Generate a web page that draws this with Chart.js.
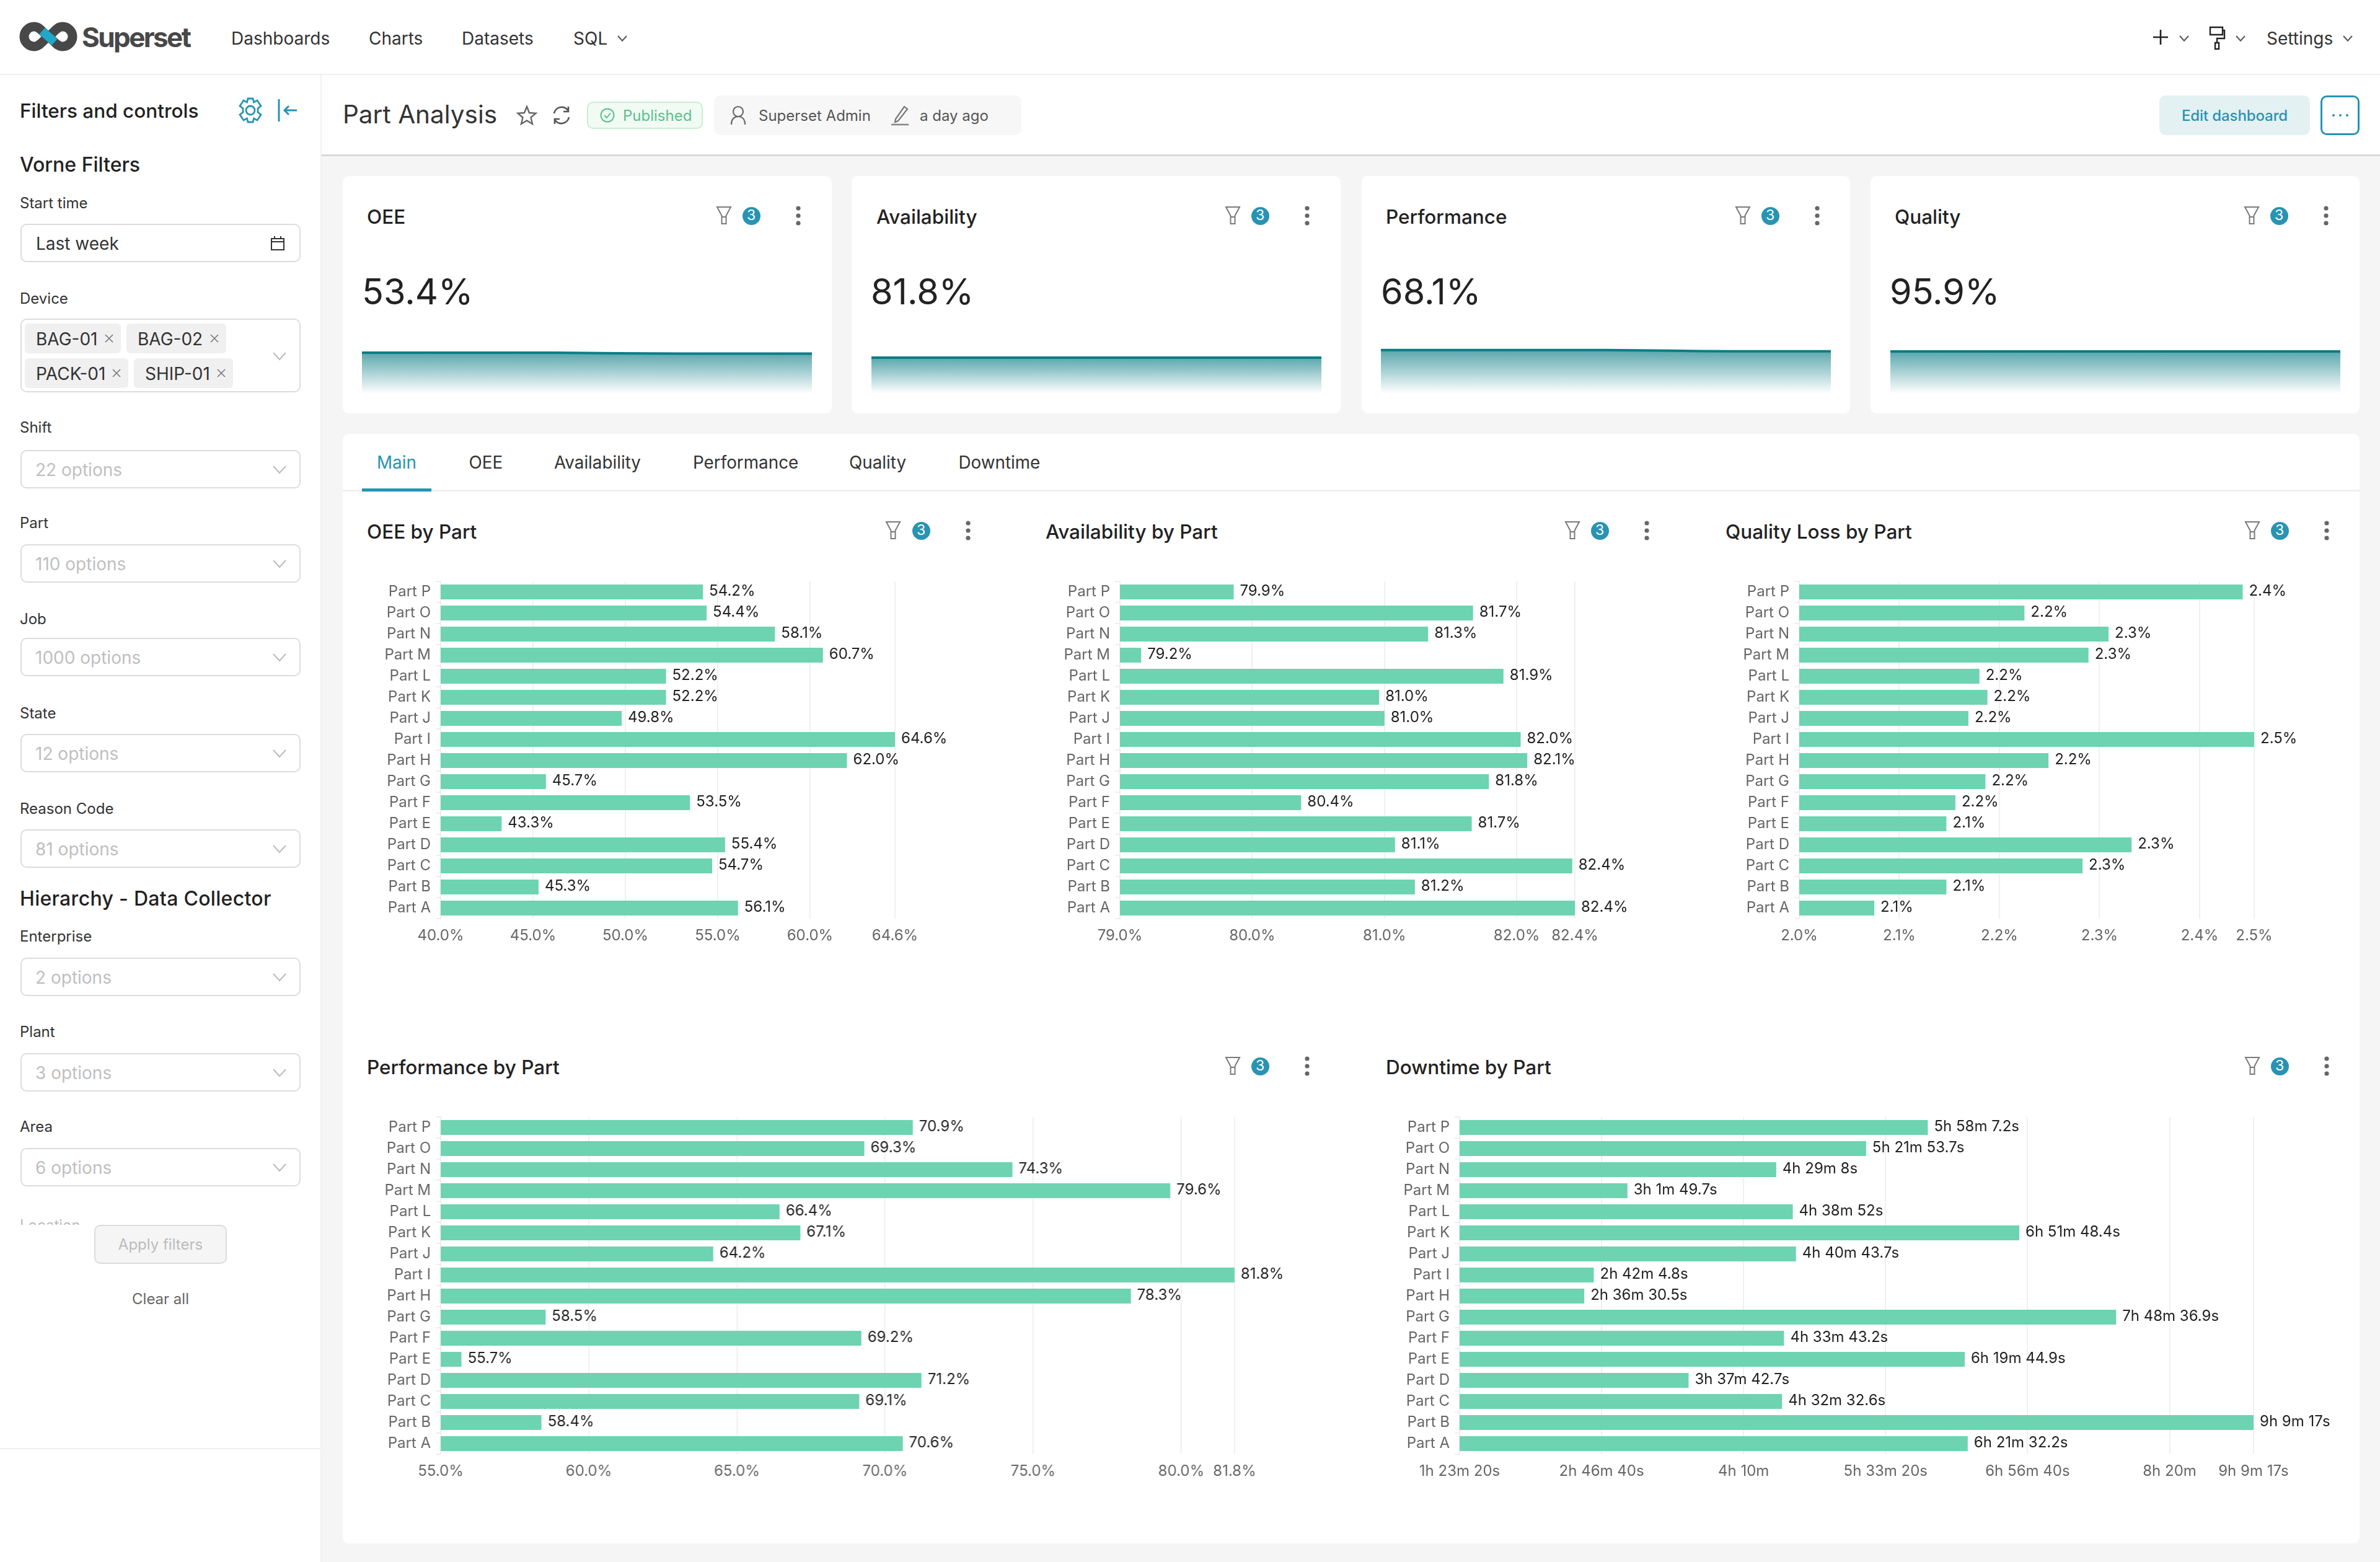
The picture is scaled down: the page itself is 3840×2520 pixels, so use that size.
<!DOCTYPE html>
<html><head><meta charset="utf-8"><title>Part Analysis</title>
<script src="https://cdn.jsdelivr.net/npm/chart.js@4/dist/chart.umd.min.js"></script>
<style>
html,body{margin:0;padding:0;width:3840px;height:2520px;overflow:hidden;background:#f5f5f5;font-family:Inter,sans-serif;}
#root{position:relative;width:3840px;height:2520px;overflow:hidden;}
.b{position:absolute;box-sizing:border-box;}
.t{position:absolute;white-space:nowrap;transform:translateY(-50%);line-height:1.2;}
canvas{position:absolute;display:block;}
svg{position:absolute;overflow:visible;}
</style></head><body><div id="root"></div>
<script>
// ---- data ----
const parts=['Part P','Part O','Part N','Part M','Part L','Part K','Part J','Part I','Part H','Part G','Part F','Part E','Part D','Part C','Part B','Part A'];
const oeeValues=[54.2,54.4,58.1,60.7,52.2,52.2,49.8,64.6,62.0,45.7,53.5,43.3,55.4,54.7,45.3,56.1];
const availabilityValues=[79.86,81.67,81.33,79.16,81.90,80.96,81.00,82.03,82.08,81.79,80.37,81.66,81.08,82.42,81.23,82.44];
const qualityLossValues=[2.443,2.225,2.309,2.289,2.180,2.188,2.169,2.4545,2.249,2.186,2.156,2.147,2.332,2.283,2.147,2.075];
const performanceValues=[70.94,69.3,74.3,79.63,66.44,67.14,64.2,81.8,78.3,58.54,69.2,55.7,71.23,69.13,58.4,70.6];
const downtimeSeconds=[21487.2,19313.7,16148,10909.7,16732,24708.4,16843.7,9724.8,9390.5,28116.9,16423.2,22784.9,13062.7,16352.6,32957,22892.2];
const oeeTicks=[40,45,50,55,60,64.6];
const availabilityTicks=[79,80,81,82,82.44];
const qualityLossTicks=[2.0,2.1,2.2,2.3,2.4,2.4545];
const performanceTicks=[55,60,65,70,75,80,81.8];
const downtimeTicks=[5000,10000,15000,20000,25000,30000,32957];
const sparkLabels=['d1','d2','d3','d4','d5','d6','d7','d8'];
const sparkOEE=[54.2,54.2,54.2,54.1,53.4,53.0,53.0,53.0];
const sparkAvailability=[81.8,81.8,81.8,81.8,81.8,81.8,81.8,81.8];
const sparkPerformance=[69.3,69.3,69.3,69.3,69.0,67.6,67.4,67.5];
const sparkQuality=[95.9,95.9,95.9,95.9,95.9,95.9,95.9,95.9];
const kpiTitles=['OEE','Availability','Performance','Quality'];
const kpiValues=['53.4%','81.8%','68.1%','95.9%'];
const tabNames=['Main','OEE','Availability','Performance','Quality','Downtime'];
const navItems=['Dashboards','Charts','Datasets','SQL'];
const filterLabels=['Shift','Part','Job','State','Reason Code','Enterprise','Plant','Area'];
const filterOptions=['22 options','110 options','1000 options','12 options','81 options','2 options','3 options','6 options'];
const deviceTags=['BAG-01','BAG-02','PACK-01','SHIP-01'];

// ---- chrome helpers ----
const root=document.getElementById('root');
const TEAL='#2893b3';
function box(x,y,w,h,css){const d=document.createElement('div');d.className='b';d.style.cssText=`left:${x}px;top:${y}px;width:${w}px;height:${h}px;${css||''}`;root.appendChild(d);return d;}
function txt(x,cy,s,size,color,extra){const d=document.createElement('div');d.className='t';d.textContent=s;d.style.cssText=`left:${x}px;top:${cy+1.5}px;font-size:${size}px;color:${color};${extra||''}`;root.appendChild(d);return d;}
function svg(cx,cy,w,h,inner){const n='http://www.w3.org/2000/svg';const e=document.createElementNS(n,'svg');e.setAttribute('width',w);e.setAttribute('height',h);e.setAttribute('viewBox',`0 0 ${w} ${h}`);e.style.left=(cx-w/2)+'px';e.style.top=(cy-h/2)+'px';e.innerHTML=inner;root.appendChild(e);return e;}
function caret(cx,cy,c,w){const W=w||14,H=W*0.55;svg(cx,cy,W,H,`<polyline points="0,0 ${W/2},${H} ${W},0" fill="none" stroke="${c||'#555'}" stroke-width="2"/>`);}
function funnel(cx,cy){svg(cx,cy,24,30,`<path d="M1 1H23L15.5 15V28H8.5V15Z M8.5 17H15.5" fill="none" stroke="#7a7a7a" stroke-width="2"/>`);}
function badge(cx,cy){svg(cx,cy,29,29,`<circle cx="14.5" cy="14.5" r="14.5" fill="${TEAL}"/>`);txt(cx,cy-1.5,'3',23,'#fff','transform:translate(-50%,-50%);');}
function kebab(cx,cy){svg(cx,cy,8,32,`<circle cx="4" cy="4" r="3.6" fill="#666"/><circle cx="4" cy="16" r="3.6" fill="#666"/><circle cx="4" cy="28" r="3.6" fill="#666"/>`);}
function cardIcons(fx,bx,kx,cy){funnel(fx,cy);badge(bx,cy);kebab(kx,cy);}

// ---- page frame ----
box(0,0,3840,121,'background:#fff;border-bottom:2px solid #f0f0f0;');
box(0,121,519,2399,'background:#fff;border-right:2px solid #f0f0f0;');
box(519,121,3321,131,'background:#fff;border-bottom:3px solid #d9d9d9;');
// logo
svg(78,59,92,48,`<path d="M23 8A16 16 0 1 0 23 40C33 40 36 31 46 24C56 17 59 8 69 8A16 16 0 1 1 69 40C59 40 56 31 46 24C36 17 33 8 23 8Z" fill="none" stroke="#484848" stroke-width="15"/><path d="M36 15L56 33" stroke="#20a7c9" stroke-width="14"/>`);
txt(132,58,'Superset',44,'#484848','font-weight:700;letter-spacing:-2.6px;');
const navX=[373,595,745,925];
navItems.forEach((s,i)=>txt(navX[i],61,s,28,'#333'));
caret(1004,62,'#555');
svg(3486,60,26,26,`<path d="M13 1V25M1 13H25" stroke="#222" stroke-width="2.6"/>`);
caret(3524,62,'#555');
svg(3577,61,26,38,`<path d="M2 2H22V14H2Z M22 7H25V20H13V27 M10 27H16V37H10Z" fill="none" stroke="#222" stroke-width="2.4"/>`);
caret(3615,62,'#555');
txt(3657,61,'Settings',28,'#333');
caret(3788,62,'#555');

// title bar
txt(553,183,'Part Analysis',40.5,'#333');
svg(850,186,32,32,`<path d="M16 2L20 12L30.5 12.8L22.5 19.5L25 30L16 24.5L7 30L9.5 19.5L1.5 12.8L12 12Z" fill="none" stroke="#666" stroke-width="2.4"/>`);
svg(906,186,32,32,`<path d="M4 13A12.5 12.5 0 0 1 27 9M28 19A12.5 12.5 0 0 1 5 23" fill="none" stroke="#555" stroke-width="2.6"/><path d="M27 2V10H19M5 30V22H13" fill="none" stroke="#555" stroke-width="2.6"/>`);
box(947,164,187,44,'background:#f1fbf4;border:2px solid #c6eed3;border-radius:10px;');
svg(980,186,24,24,`<circle cx="12" cy="12" r="10.5" fill="none" stroke="#5ac189" stroke-width="2"/><path d="M7 12L11 16L17 8.5" fill="none" stroke="#5ac189" stroke-width="2"/>`);
txt(1005,185,'Published',24,'#5ac189');
box(1152,154,496,64,'background:#f7f7f7;border-radius:10px;');
svg(1191,186,26,32,`<circle cx="13" cy="10" r="8" fill="none" stroke="#666" stroke-width="2.2"/><path d="M2 31C2 22 7 18 13 18C19 18 24 22 24 31" fill="none" stroke="#666" stroke-width="2.2"/>`);
txt(1224,185,'Superset Admin',24,'#555');
svg(1452,186,30,32,`<path d="M8 22L22 2L27 6L12 25L7 27Z" fill="none" stroke="#777" stroke-width="2.2"/><path d="M1 31H29" stroke="#888" stroke-width="2.6"/>`);
txt(1484,185,'a day ago',24,'#555');
box(3484,154,243,64,'background:#e3f1f3;border-radius:10px;');
txt(3605.5,185,'Edit dashboard',24,TEAL,'transform:translate(-50%,-50%);font-weight:500;letter-spacing:-0.1px;');
box(3744,154,63,64,`border:3px solid ${TEAL};border-radius:10px;background:#fff;`);
svg(3775.5,186,26,4,`<circle cx="2" cy="2" r="2" fill="${TEAL}"/><circle cx="13" cy="2" r="2" fill="${TEAL}"/><circle cx="24" cy="2" r="2" fill="${TEAL}"/>`);

// sidebar
txt(32,177.5,'Filters and controls',31.5,'#222','font-weight:500;');
svg(404,178,38,42,`<circle cx="19" cy="21" r="7" fill="none" stroke="${TEAL}" stroke-width="2.8"/><path d="M15 2H23L24.5 8L30 5L36 14L31 18V24L36 28L30 37L24.5 34L23 40H15L13.5 34L8 37L2 28L7 24V18L2 14L8 5L13.5 8Z" fill="none" stroke="${TEAL}" stroke-width="2.8"/>`);
svg(464,178,32,36,`<path d="M2 0V36" stroke="${TEAL}" stroke-width="3"/><path d="M31 18H12M18 11L11 18L18 25" fill="none" stroke="${TEAL}" stroke-width="3"/>`);
txt(32,264,'Vorne Filters',32,'#222','font-weight:500;');
txt(32,326,'Start time',24,'#333');
box(33,361,452,62,'border:2.5px solid #dcdcdc;border-radius:10px;background:#fff;');
txt(58,392,'Last week',28,'#333');
svg(448,392,22,24,`<path d="M1 5H21V23H1ZM1 10H21M6 1V5M16 1V5" fill="none" stroke="#333" stroke-width="2"/>`);
txt(32,480,'Device',24,'#333');
box(33,514,452,119,'border:2.5px solid #dcdcdc;border-radius:10px;background:#fff;');
const tagX=[40,204,40,216], tagW=[155,161,167,160], tagY=[522,522,578,578];
deviceTags.forEach((s,i)=>{box(tagX[i],tagY[i],tagW[i],48,'background:#f0f0f0;border-radius:6px;');
 txt(tagX[i]+18,tagY[i]+24,s,28,'#333');
 svg(tagX[i]+tagW[i]-19,tagY[i]+24,14,14,`<path d="M1 1L13 13M13 1L1 13" stroke="#777" stroke-width="1.6"/>`);});
caret(451,574,'#bbb',20);
const filterLabelY=[688,842.5,997,1149,1303,1509,1663,1816];
const filterInputY=[757,909,1060,1215,1369,1576,1730,1883];
filterLabels.forEach((s,i)=>{txt(32,filterLabelY[i],s,24,'#333');
 box(33,filterInputY[i]-31,452,62,'border:2.5px solid #dcdcdc;border-radius:10px;background:#fff;');
 txt(57,filterInputY[i],filterOptions[i],28,'#bfbfbf');
 caret(451,filterInputY[i],'#bbb',20);});
txt(32,1448,'Hierarchy - Data Collector',32,'#222','font-weight:500;letter-spacing:0.3px;');
const clip=box(30,1958,300,18,'overflow:hidden;');
const loc=document.createElement('div');loc.textContent='Location';loc.style.cssText='position:absolute;left:2px;top:4px;font-size:24px;color:#bbb;white-space:nowrap;';clip.appendChild(loc);
box(152,1976,214,63,'background:#f5f5f5;border:2.5px solid #dcdcdc;border-radius:10px;');
txt(259,2006,'Apply filters',24,'#bbb','transform:translate(-50%,-50%);');
txt(259,2094,'Clear all',24,'#666','transform:translate(-50%,-50%);');
box(0,2336,519,2,'background:#f0f0f0;');

// KPI cards
const cardX=[553,1374,2197,3018], cardW=[789,789,788,789];
const kpiTitleX=[592,1414,2236,3057];
kpiTitles.forEach((s,i)=>{box(cardX[i],284,cardW[i],383,'background:#fff;border-radius:10px;');
 txt(kpiTitleX[i],348,s,31.5,'#222','font-weight:500;');
 cardIcons(cardX[i]+615,cardX[i]+659,cardX[i]+735,348);
 txt(cardX[i]+31,468.5,kpiValues[i],57.5,'#222');});

// tabs panel
box(553,700,3254,1790,'background:#fff;border-radius:10px;');
box(553,790,3254,3,'background:#f0f0f0;');
const tabX=[608,756.5,894,1118,1370,1546.5];
tabNames.forEach((s,i)=>txt(tabX[i],745,s,27.8,i===0?TEAL:'#333'));
box(584,788,112,5,`background:${TEAL};`);

// chart titles
const titleCss='font-weight:500;';
txt(592,856,'OEE by Part',31.5,'#222',titleCss);cardIcons(1441,1486,1562,856);
txt(1687,856,'Availability by Part',31.5,'#222',titleCss);cardIcons(2537,2581,2657,856);
txt(2784,856,'Quality Loss by Part',31.5,'#222',titleCss);cardIcons(3634,3678,3754,856);
txt(592,1720,'Performance by Part',31.5,'#222',titleCss);cardIcons(1989,2033,2109,1720);
txt(2236,1720,'Downtime by Part',31.5,'#222',titleCss);cardIcons(3634,3678,3754,1720);

// ---- charts ----
Chart.defaults.font.family='Inter, sans-serif';
const pct=v=>v.toFixed(1)+'%';
function duration(sec){
  const h=Math.floor(sec/3600),m=Math.floor((sec-h*3600)/60),s=Math.round((sec-h*3600-m*60)*10)/10;
  const out=[];if(h)out.push(h+'h');if(m)out.push(m+'m');if(s)out.push(s+'s');return out.join(' ');
}
const barLabels={id:'barLabels',afterDatasetsDraw(chart,a,o){
  const c=chart.ctx,vals=chart.data.datasets[0].data;
  c.save();c.font='24px Inter, sans-serif';c.fillStyle='#222';c.textBaseline='middle';c.textAlign='left';
  chart.getDatasetMeta(0).data.forEach((el,i)=>c.fillText(o.format(vals[i]),el.x+10,el.y-1));
  c.restore();
}};
function barChart(x0,xmax,top,values,ticks,format){
  const LEFT=160,RIGHT=240,PADT=24,PH=544,AXH=50;
  const cv=document.createElement('canvas');
  const W=LEFT+(xmax-x0)+RIGHT,H=PADT+PH+AXH;
  cv.width=W;cv.height=H;cv.style.cssText=`left:${x0-LEFT}px;top:${top-PADT}px;width:${W}px;height:${H}px;`;
  root.appendChild(cv);
  new Chart(cv,{type:'bar',plugins:[barLabels],
    data:{labels:parts,datasets:[{data:values,backgroundColor:'#6dd3b1',barPercentage:0.7,categoryPercentage:1}]},
    options:{indexAxis:'y',responsive:false,animation:false,devicePixelRatio:1,
      layout:{padding:{left:0,right:RIGHT,top:PADT,bottom:0}},
      plugins:{legend:{display:false},tooltip:{enabled:false},barLabels:{format}},
      scales:{
        x:{type:'linear',min:ticks[0],max:ticks[ticks.length-1],
          afterBuildTicks(s){s.ticks=ticks.map(v=>({value:v}));},
          afterFit(s){s.height=AXH;},
          grid:{color:'#f0f0f0',lineWidth:2,tickLength:0,drawTicks:false},border:{display:false},
          ticks:{font:{size:24},color:'#666',padding:13,maxRotation:0,autoSkip:false,callback:v=>format(v)}},
        y:{afterFit(s){s.width=LEFT;},
          grid:{drawOnChartArea:false,color:'#eeeeee',lineWidth:2,tickLength:8},border:{color:'#eeeeee',width:2},
          ticks:{font:{size:24},color:'#666',padding:8,autoSkip:false}}
      }}});
}
barChart(710.5,1444,938,oeeValues,oeeTicks,pct);
barChart(1806.5,2540.6,938,availabilityValues,availabilityTicks,pct);
barChart(2903,3637,938,qualityLossValues,qualityLossTicks,pct);
barChart(710.8,1991.7,1802,performanceValues,performanceTicks,pct);
barChart(2354.8,3636,1802,downtimeSeconds,downtimeTicks,duration);

function spark(x,w,values,maxY){
  const top=555,h=80;
  const cv=document.createElement('canvas');cv.width=w;cv.height=h;cv.style.cssText=`left:${x}px;top:${top}px;width:${w}px;height:${h}px;`;root.appendChild(cv);
  new Chart(cv,{type:'line',
    data:{labels:sparkLabels,datasets:[{data:values,borderColor:'#0b7d85',borderWidth:4,pointRadius:0,tension:0.4,fill:'start',
      backgroundColor(ctx){const {chart}=ctx;const a=chart.chartArea;if(!a)return 'transparent';
        const yy=chart.scales.y.getPixelForValue(Math.max(...values));
        const g=chart.ctx.createLinearGradient(0,yy,0,a.bottom);
        g.addColorStop(0,'rgba(11,125,133,0.68)');g.addColorStop(1,'rgba(11,125,133,0)');return g;}}]},
    options:{responsive:false,animation:false,devicePixelRatio:1,layout:{padding:0},
      plugins:{legend:{display:false},tooltip:{enabled:false}},
      scales:{x:{display:false,offset:false},y:{display:false,min:0,max:maxY}}}});
}
spark(584,726,sparkOEE,65.7);
spark(1406,726,sparkAvailability,112.8);
spark(2228,726,sparkPerformance,79);
spark(3050,726,sparkQuality,112.8);
</script></body></html>
